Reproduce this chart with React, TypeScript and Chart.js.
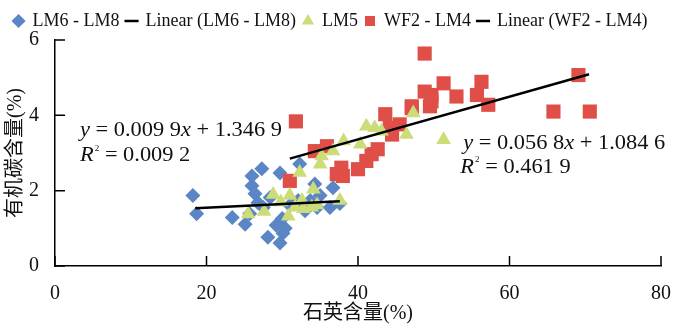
import React, { useEffect, useRef } from "react";
import { Chart, registerables } from "chart.js";

Chart.register(...registerables);

// ---- data ----
const lm68X = [18.2, 18.7, 23.4, 25.1, 26.0, 27.3, 26.0, 26.4, 25.7, 27.5, 29.7, 28.1, 29.7, 30.4, 30.0, 32.3, 31.0, 34.3, 34.6, 36.3, 36.7, 37.6, 28.4, 30.1, 32.1, 33.0, 35.0, 26.8, 29.2, 33.7];
const lm68Y = [1.87, 1.39, 1.29, 1.11, 2.39, 2.58, 2.13, 1.92, 1.39, 1.55, 2.47, 0.76, 0.61, 1.0, 1.26, 2.71, 1.61, 2.18, 1.55, 1.55, 2.08, 1.66, 1.82, 0.87, 1.74, 1.47, 1.87, 1.68, 1.08, 1.74];

const lm5X = [25.5, 27.6, 28.8, 31.0, 30.8, 31.7, 32.3, 32.6, 32.8, 33.9, 34.1, 35.0, 35.2, 36.7, 37.6, 38.1, 40.3, 41.1, 42.2, 43.1, 46.4, 47.3, 51.3, 34.6, 29.8];
const lm5Y = [1.38, 1.45, 1.9, 1.87, 1.32, 1.56, 2.48, 1.74, 1.52, 1.56, 2.04, 2.7, 2.92, 3.05, 1.74, 3.32, 3.23, 3.71, 3.67, 3.58, 3.49, 4.06, 3.35, 1.62, 1.7];

const wf2X = [31.8, 31.0, 34.3, 35.9, 37.2, 37.8, 38.0, 40.0, 41.1, 41.8, 42.6, 43.6, 44.2, 44.5, 45.5, 47.1, 47.1, 48.8, 48.8, 49.7, 49.5, 49.7, 51.3, 53.0, 55.7, 56.3, 57.2, 65.8, 69.1, 70.6];
const wf2Y = [3.84, 2.26, 3.05, 3.18, 2.44, 2.61, 2.39, 2.57, 2.79, 2.97, 3.1, 4.03, 3.67, 3.49, 3.76, 4.19, 4.24, 5.64, 4.63, 4.54, 4.24, 4.37, 4.85, 4.5, 4.54, 4.89, 4.28, 4.1, 5.07, 4.1];

// trend line end points
const trend68X = [18.5, 37.6];
const trend68Y = [1.53, 1.72];
const trendWfX = [31.0, 70.5];
const trendWfY = [2.85, 5.09];

const seriesNames = ["LM6 - LM8", "Linear (LM6 - LM8)", "LM5", "WF2 - LM4", "Linear (WF2 - LM4)"];
const xTicks = [0, 20, 40, 60, 80];
const yTicks = [0, 2, 4, 6];
const xTitle = "石英含量(%)";
const yTitle = "有机碳含量(%)";

const eqLeft1 = [{ t: "y", i: true }, { t: " = 0.009 9" }, { t: "x", i: true }, { t: " + 1.346 9" }];
const eqLeft2 = [{ t: "R", i: true }, { t: "2", sup: true }, { t: " = 0.009 2" }];
const eqRight1 = [{ t: "y", i: true }, { t: " = 0.056 8" }, { t: "x", i: true }, { t: " + 1.084 6" }];
const eqRight2 = [{ t: "R", i: true }, { t: "2", sup: true }, { t: " = 0.461 9" }];
// annotation anchors in data units
const eqLeftPos = { x: 3.3, y1: 3.58, y2: 2.92 };
const eqRightPos = { x: 53.9, y1: 3.24, y2: 2.62 };

const SERIF = "'Liberation Serif', 'Times New Roman', 'Noto Sans CJK SC', serif";
const BLUE = "#5A86C5";
const GREEN = "#CBDC78";
const RED = "#DF4F48";

Chart.defaults.font.family = SERIF;

const toPts = (xs: number[], ys: number[]) => xs.map((x, i) => ({ x, y: ys[i] }));

const TICK = 10;
const SX = 1.12;

function drawSegs(ctx: CanvasRenderingContext2D, x: number, y: number, segs: any[], size: number) {
  ctx.save();
  ctx.translate(x, y);
  ctx.scale(SX, 1);
  let cx = 0;
  ctx.fillStyle = "#111";
  ctx.textBaseline = "middle";
  ctx.textAlign = "left";
  for (const s of segs) {
    if (s.sup) {
      ctx.font = `${Math.round(size * 0.4)}px ${SERIF}`;
      ctx.fillText(s.t, cx + 1, -size * 0.35);
      cx += ctx.measureText(s.t).width + 1;
    } else {
      ctx.font = `${s.i ? "italic " : ""}${size}px ${SERIF}`;
      ctx.fillText(s.t, cx, 0);
      cx += ctx.measureText(s.t).width;
    }
  }
  ctx.restore();
}

const decoPlugin = {
  id: "deco",
  afterDraw(chart: any) {
    const { ctx, scales } = chart;
    const x = scales.x;
    const y = scales.y;
    ctx.save();
    ctx.strokeStyle = "#000";
    ctx.lineWidth = 1.5;
    const bottom = y.getPixelForValue(yTicks[0]);
    const left = x.getPixelForValue(xTicks[0]);
    ctx.beginPath();
    for (const v of xTicks) {
      const px = x.getPixelForValue(v);
      ctx.moveTo(px, bottom);
      ctx.lineTo(px, bottom - TICK);
    }
    for (const v of yTicks) {
      const py = y.getPixelForValue(v);
      ctx.moveTo(left, py);
      ctx.lineTo(left + TICK, py);
    }
    ctx.stroke();
    ctx.restore();

    const size = 20;
    drawSegs(ctx, x.getPixelForValue(eqLeftPos.x), y.getPixelForValue(eqLeftPos.y1), eqLeft1, size);
    drawSegs(ctx, x.getPixelForValue(eqLeftPos.x), y.getPixelForValue(eqLeftPos.y2), eqLeft2, size);
    drawSegs(ctx, x.getPixelForValue(eqRightPos.x), y.getPixelForValue(eqRightPos.y1), eqRight1, size);
    drawSegs(ctx, x.getPixelForValue(eqRightPos.x) - 3, y.getPixelForValue(eqRightPos.y2), eqRight2, size);
  },
};

export default function App() {
  const ref = useRef<HTMLCanvasElement>(null);
  useEffect(() => {
    document.body.style.margin = "0";
    const canvas = ref.current!;
    const chart = new Chart(canvas, {
      type: "scatter",
      data: {
        datasets: [
          {
            label: seriesNames[0],
            data: toPts(lm68X, lm68Y),
            pointStyle: "rectRot",
            pointRadius: 7.5,
            backgroundColor: BLUE,
            borderColor: BLUE,
            borderWidth: 0,
            order: 4,
          },
          {
            label: seriesNames[1],
            data: toPts(trend68X, trend68Y),
            showLine: true,
            pointRadius: 0,
            pointStyle: "line",
            borderColor: "#000",
            backgroundColor: "#000",
            borderWidth: 2.5,
            order: 0,
          },
          {
            label: seriesNames[2],
            data: toPts(lm5X, lm5Y),
            pointStyle: "triangle",
            pointRadius: 8.5,
            backgroundColor: GREEN,
            borderColor: GREEN,
            borderWidth: 0,
            order: 2,
          },
          {
            label: seriesNames[3],
            data: toPts(wf2X, wf2Y),
            pointStyle: "rect",
            pointRadius: 10,
            backgroundColor: RED,
            borderColor: RED,
            borderWidth: 0,
            order: 3,
          },
          {
            label: seriesNames[4],
            data: toPts(trendWfX, trendWfY),
            showLine: true,
            pointRadius: 0,
            pointStyle: "line",
            borderColor: "#000",
            backgroundColor: "#000",
            borderWidth: 2.5,
            order: 1,
          },
        ],
      },
      options: {
        responsive: false,
        animation: false,
        layout: { padding: { left: 0, right: 39, top: 5, bottom: 0 } },
        plugins: {
          tooltip: { enabled: false },
          legend: {
            position: "top",
            labels: {
              usePointStyle: true,
              boxWidth: 10,
              boxHeight: 10,
              padding: 7,
              color: "#111",
              font: { family: SERIF, size: 18 },
              sort: (a: any, b: any) => a.datasetIndex - b.datasetIndex,
            },
          },
        },
        scales: {
          x: {
            type: "linear",
            min: 0,
            max: 80,
            afterBuildTicks: (s: any) => {
              s.ticks = xTicks.map((v) => ({ value: v }));
            },
            afterFit: (s: any) => {
              s.height = 60;
            },
            grid: { display: false },
            border: { display: true, color: "#000", width: 1.5 },
            ticks: { color: "#111", padding: 8, font: { family: SERIF, size: 20 } },
            title: {
              display: true,
              text: xTitle,
              color: "#111",
              padding: { top: 0, bottom: 0 },
              font: { family: SERIF, size: 20 },
            },
          },
          y: {
            type: "linear",
            min: 0,
            max: 6,
            afterBuildTicks: (s: any) => {
              s.ticks = yTicks.map((v) => ({ value: v }));
            },
            afterFit: (s: any) => {
              s.width = 55;
            },
            grid: { display: false },
            border: { display: true, color: "#000", width: 1.5 },
            ticks: { color: "#111", padding: 8, font: { family: SERIF, size: 20 } },
            title: {
              display: true,
              text: yTitle,
              color: "#111",
              padding: { top: 4, bottom: 0 },
              font: { family: SERIF, size: 20 },
            },
          },
        },
      },
      plugins: [decoPlugin],
    } as any);
    return () => chart.destroy();
  }, []);
  return <canvas ref={ref} width={700} height={326} style={{ display: "block" }} />;
}
